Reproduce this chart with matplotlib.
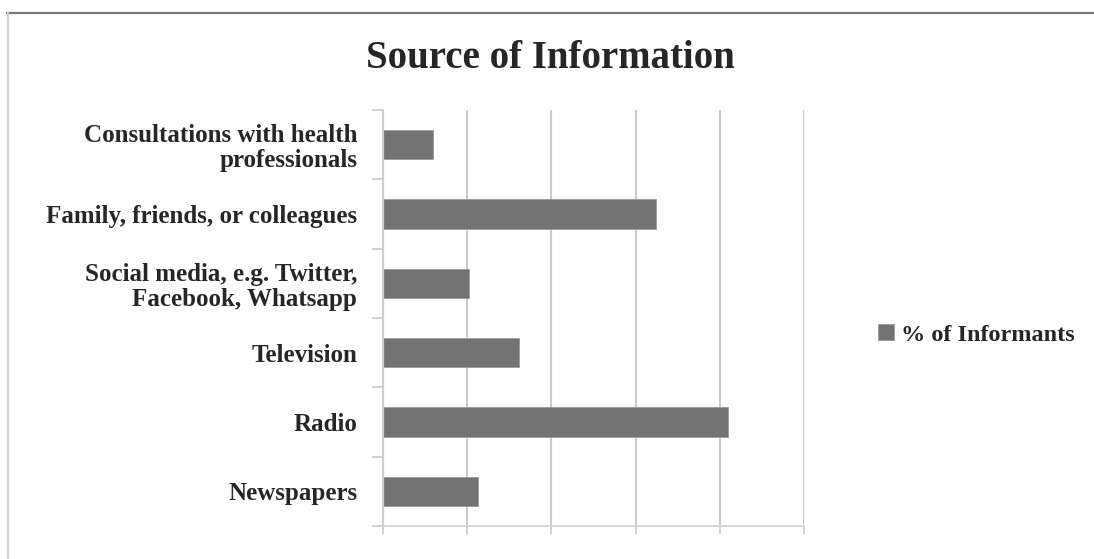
import matplotlib
matplotlib.use("Agg")
import matplotlib.pyplot as plt
from matplotlib.patches import Patch
from matplotlib.lines import Line2D

categories = ["Newspapers", "Radio", "Television",
              "Social media, e.g. Twitter,\nFacebook, Whatsapp",
              "Family, friends, or colleagues",
              "Consultations with health\nprofessionals"]
values = [11.3, 41.0, 16.1, 10.2, 32.4, 5.9]
series_name = "% of Informants"
title = "Source of Information"

W, H = 1094, 559
fig = plt.figure(figsize=(W / 100, H / 100), dpi=100)
fig.patch.set_facecolor("white")

def fx(px):
    return px / W

def fy(py):
    return 1 - py / H

# outer chart border (top and left visible)
fig.add_artist(Line2D([fx(7), fx(1094)], [fy(13), fy(13)], color="#7a7a7a", lw=1.6))
fig.add_artist(Line2D([fx(8), fx(8)], [fy(13), fy(559)], color="#cfcfcf", lw=1.6))

ax = fig.add_axes([fx(383), fy(526), fx(804) - fx(383), (526 - 110) / H])
ys = list(range(len(categories)))
ax.barh(ys, values, height=0.42, color="#737373", edgecolor="#9a9a9a",
        linewidth=0.6, zorder=3, label=series_name)

ax.set_xlim(0, 50)
ax.set_ylim(-0.5, len(categories) - 0.5)
ax.set_xticks([0, 10, 20, 30, 40, 50])
ax.set_xticklabels([])
ax.set_yticks([i - 0.5 for i in range(len(categories) + 1)], minor=False)
ax.set_yticklabels([])
ax.set_yticks(ys, minor=True)
ax.set_yticklabels(categories, minor=True, fontfamily="Liberation Serif",
                   fontweight="bold", fontsize=18, color="#262626",
                   ha="right", linespacing=1.1)
ax.tick_params(axis="y", which="minor", length=0, pad=18.5)
ax.tick_params(axis="y", which="major", length=8, width=1.4, color="#d0d0d0")
ax.tick_params(axis="x", which="major", length=6, width=1.4, color="#d0d0d0")
ax.grid(axis="x", color="#cacaca", lw=1.5, zorder=0)
for s in ["top", "right"]:
    ax.spines[s].set_visible(False)
ax.spines["left"].set_color("#d0d0d0")
ax.spines["left"].set_linewidth(1.6)
ax.spines["bottom"].set_color("#d6d6d6")
ax.spines["bottom"].set_linewidth(1.4)
ax.spines["left"].set_zorder(4)

fig.text(fx(550), fy(58), title, ha="center", va="center",
         fontfamily="Liberation Serif", fontweight="bold", fontsize=28,
         color="#262626")

fig.legend(handles=[Patch(facecolor="#737373", edgecolor="#9a9a9a", linewidth=0.6)],
           labels=[series_name], loc="center left",
           bbox_to_anchor=(fx(856), fy(335)), frameon=False,
           handlelength=0.65, handleheight=0.65, handletextpad=0.3,
           prop={"family": "Liberation Serif", "weight": "bold", "size": 17.5},
           labelcolor="#262626")

fig.savefig("out.png", dpi=100, facecolor="white")
